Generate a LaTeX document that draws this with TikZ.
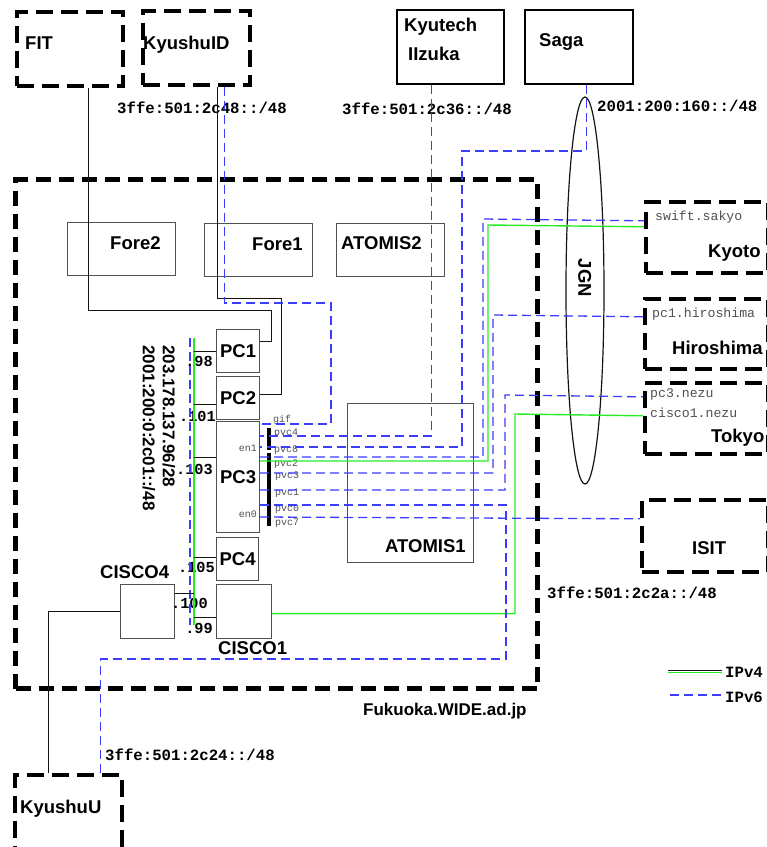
\documentclass[tikz,border=0pt]{standalone}
\usepackage{fontspec}
\setmainfont{Liberation Sans}
\newfontfamily\monof{Liberation Mono}
\usetikzlibrary{calc,positioning,shapes.geometric}
\definecolor{ink}{RGB}{20,20,20}
\definecolor{frame}{RGB}{80,80,80}
\definecolor{vsix}{RGB}{60,60,255}
\definecolor{vfour}{RGB}{40,235,40}
\definecolor{port}{RGB}{80,80,80}
\tikzset{
  site/.style={draw=black,line width=3.6pt,dash pattern=on 17pt off 8pt,inner sep=0pt,anchor=north west},
  campus/.style={draw=black,line width=2.4pt,inner sep=0pt,anchor=north west},
  noc/.style={draw=black,line width=5pt,dash pattern=on 15pt off 8pt,inner sep=0pt,anchor=north west},
  dev/.style={draw=frame,line width=1.2pt,inner sep=0pt,anchor=north west},
  lab/.style={font=\fontsize{18.5}{21}\selectfont\bfseries,text height=13.3pt,text depth=0pt},
  txt/.style={lab,inner sep=0pt,anchor=west},
  pfx/.style={inner sep=0pt,anchor=west,font=\monof\fontsize{15.7}{18}\selectfont\bfseries,
    text height=10.5pt,text depth=0pt},
  addr/.style={pfx,anchor=east,font=\monof\fontsize{15.3}{18}\selectfont\bfseries},
  host/.style={inner sep=0pt,anchor=west,text=port,font=\monof\fontsize{13.2}{15}\selectfont,
    text height=9pt,text depth=0pt},
  pvc/.style={host,font=\monof\fontsize{10}{12}\selectfont,text height=7pt},
  v4/.style={draw=ink,line width=0.9pt},
  v4g/.style={draw=vfour,line width=1.4pt},
  v6/.style={draw=vsix,line width=1.3pt,dash pattern=on 9pt off 5pt},
}

\begin{document}
\begin{tikzpicture}[x=1pt,y=-1pt]
  \useasboundingbox (0,0) rectangle (767,847);
  % outside sites
  \node[site,minimum width=106pt,minimum height=74pt] (fit) at (15,10) {};
  \node[site,minimum width=107pt,minimum height=74pt] (kyushuid) at (141,9) {};
  \node[campus,minimum width=107pt,minimum height=74pt] (kyutech) at (396,9) {};
  \node[campus,minimum width=108pt,minimum height=74pt] (saga) at (524,9) {};
  \node[site,minimum width=122pt,minimum height=71pt] (kyoto) at (644,200) {};
  \node[site,minimum width=123pt,minimum height=70pt] (hiroshima) at (643,297) {};
  \node[site,minimum width=123pt,minimum height=71pt] (tokyo) at (643,381) {};
  \node[site,minimum width=126pt,minimum height=72pt] (isit) at (640,498) {};
  \node[site,minimum width=107pt,minimum height=90pt] (kyushuu) at (13,773) {};
  \node[draw=ink,line width=1.2pt,ellipse,inner sep=0pt,minimum width=38pt,minimum height=387pt]
    (jgn) at (585,290.5) {};
  % NOC
  \node[noc,minimum width=522pt,minimum height=509pt] (fukuoka) at (13,177) {};
  \node[dev,minimum width=108pt,minimum height=53pt] (fore2) at (67,222) {};
  \node[dev,minimum width=108pt,minimum height=53pt] (fore1) at (204,223) {};
  \node[dev,minimum width=108pt,minimum height=53pt] (atomis2) at (336,223) {};
  \node[dev,minimum width=126pt,minimum height=159pt] (atomis1) at (347,403) {};
  \node[dev,lab,minimum width=43pt,minimum height=43pt] (pc1) at (216,329) {PC1};
  \node[dev,lab,minimum width=43pt,minimum height=43pt] (pc2) at (216,376) {PC2};
  \node[dev,lab,minimum width=43pt,minimum height=111pt] (pc3) at (216,421) {PC3};
  \node[dev,lab,minimum width=42pt,minimum height=43pt] (pc4) at (216,537) {PC4};
  \node[dev,minimum width=55pt,minimum height=54pt] (cisco1) at (216,584) {};
  \node[dev,minimum width=54pt,minimum height=54pt] (cisco4) at (120,584) {};
  \node[fill=black,inner sep=0pt,minimum width=4pt,minimum height=22pt,anchor=north] (en1bar) at (269,428) {};
  \node[fill=black,inner sep=0pt,minimum width=4pt,minimum height=73pt,anchor=north] (en0bar) at (269,453) {};

  % labels
  \node[txt] (fitlbl) at (25,43) {FIT};
  \node[txt] (kyushuidlbl) at (143,43) {KyushuID};
  \node[txt] (kyutechlbl) at (404,25) {Kyutech};
  \node[txt] (iizukalbl) at (408,54) {IIzuka};
  \node[txt] (sagalbl) at (539,39.5) {Saga};
  \node[txt] (fore2lbl) at (110,243) {Fore2};
  \node[txt] (fore1lbl) at (252,244) {Fore1};
  \node[txt] (atomis2lbl) at (341,243) {ATOMIS2};
  \node[txt] (atomis1lbl) at (385,546) {ATOMIS1};
  \node[txt] (cisco4lbl) at (100,572) {CISCO4};
  \node[txt] (cisco1lbl) at (218,648) {CISCO1};
  \node[txt] (kyotolbl) at (708,251) {Kyoto};
  \node[txt] (hiroshimalbl) at (672,348) {Hiroshima};
  \node[txt] (tokyolbl) at (711,436) {Tokyo};
  \node[txt] (isitlbl) at (692,548) {ISIT};
  \node[txt] (kyushuulbl) at (20,807) {KyushuU};
  \node[lab,rotate=-90] (jgnlbl) at (585,278) {JGN};
  \node[txt,font=\fontsize{17}{20}\selectfont\bfseries,text height=12.2pt] (fukuokalbl) at (363,709)
    {Fukuoka.WIDE.ad.jp};
  \node[txt,rotate=-90,font=\fontsize{17}{20}\selectfont\bfseries,text height=12.2pt] (v4net) at (169,345)
    {203.178.137.96/28};
  \node[txt,rotate=-90,font=\fontsize{17}{20}\selectfont\bfseries,text height=12.2pt] (v6net) at (149,345)
    {2001:200:0:2c01::/48};
  \node[pfx] (kyushuidpfx) at (117,108) {3ffe:501:2c48::/48};
  \node[pfx] (kyutechpfx) at (342,109.5) {3ffe:501:2c36::/48};
  \node[pfx] (sagapfx) at (597,106) {2001:200:160::/48};
  \node[pfx] (isitpfx) at (547,593) {3ffe:501:2c2a::/48};
  \node[pfx] (kyushuupfx) at (105,755) {3ffe:501:2c24::/48};
  \node[host] (sakyo) at (655,216) {swift.sakyo};
  \node[host] (hiropc) at (652,313) {pc1.hiroshima};
  \node[host] (nezupc) at (650,393) {pc3.nezu};
  \node[host] (nezucisco) at (650,413) {cisco1.nezu};
  \node[addr] (a98) at (213,361) {.98};
  \node[addr] (a101) at (216,416) {.101};
  \node[addr] (a103) at (213,469) {.103};
  \node[addr] (a105) at (215,567) {.105};
  \node[addr] (a100) at (208,603) {.100};
  \node[addr] (a99) at (213,628) {.99};
  \node[pvc] (giflbl) at (273,419) {gif};
  \node[pvc] (pvc4lbl) at (274,432) {pvc4};
  \node[pvc] (pvc8lbl) at (274,449) {pvc8};
  \node[pvc] (pvc2lbl) at (274,463) {pvc2};
  \node[pvc] (pvc3lbl) at (275,475) {pvc3};
  \node[pvc] (pvc1lbl) at (275,492) {pvc1};
  \node[pvc] (pvc0lbl) at (275,508) {pvc0};
  \node[pvc] (pvc7lbl) at (275,522) {pvc7};
  \node[pvc,anchor=east] (en1lbl) at (257,448) {en1};
  \node[pvc,anchor=east] (en0lbl) at (257,514) {en0};

  % ports on PC3
  \coordinate (gif) at ([yshift=-3pt]pc3.north east);
  \coordinate (pvc4) at ([yshift=-15pt]pc3.north east);
  \coordinate (pvc8) at ([yshift=-26pt]pc3.north east);
  \coordinate (pvc2) at ([yshift=-36pt]pc3.north east);
  \coordinate (pvc2g) at ([yshift=-40pt]pc3.north east);
  \coordinate (pvc3) at ([yshift=-52pt]pc3.north east);
  \coordinate (pvc1) at ([yshift=-69pt]pc3.north east);
  \coordinate (pvc0) at ([yshift=-84pt]pc3.north east);
  \coordinate (pvc7) at ([yshift=-96pt]pc3.north east);

  % segment
  \coordinate (bus6top) at (190,338); \coordinate (bus6bot) at (190,625);
  \coordinate (bus4top) at (194,338); \coordinate (bus4bot) at (194,625);
  \draw[v6] (bus6top) -- (bus6bot);
  \draw[v4g] (bus4top) -- (bus4bot);
  \draw[v4] (pc1.west) -- (pc1.west -| bus4top);
  \draw[v4] ([yshift=-6.5pt]pc2.west) coordinate (s2) -- (s2 -| bus4top);
  \draw[v4] ([yshift=19.5pt]pc3.west) coordinate (s3) -- (s3 -| bus4top);
  \draw[v4] ([yshift=1.5pt]pc4.west) coordinate (s4) -- (s4 -| bus4top);
  \draw[v4] ([yshift=18pt]cisco4.east) coordinate (s5) -- (s5 -| bus4top);
  \draw[v4] ([yshift=-6pt]cisco1.west) coordinate (s6) -- (s6 -| bus4top);

  % IPv4 links
  \draw[v4] ([xshift=19pt]fit.south) |- (271,310) |- ([yshift=9.5pt]pc1.east);
  \draw[v4] ([xshift=21.5pt]kyushuid.south) |- (281,298) |- ([yshift=3.5pt]pc2.east);
  \draw[v4] (cisco4.west) -| ([xshift=-19.5pt]kyushuu.north);
  \draw[v4g] (pvc2g) -| (488,225) -- ([yshift=10.5pt]kyoto.west);
  \draw[v4g] ([yshift=-2pt]cisco1.east) -| (515,414) -- ([yshift=2.5pt]tokyo.west);

  % IPv6 links
  \draw[v6] ([xshift=28.5pt]kyushuid.south) |- (331,303) |- (gif);
  \draw[v6] ([xshift=-19pt]kyutech.south) |- (pvc4);
  \draw[v6] ([xshift=7pt]saga.south) |- (462,151) |- (pvc8);
  \draw[v6] (pvc2) -| (483,219) -- ([yshift=16.5pt]kyoto.west);
  \draw[v6] (pvc3) -| (493,315) -- ([yshift=17pt]hiroshima.west);
  \draw[v6] (pvc1) -| (505,395) -- ([yshift=21.5pt]tokyo.west);
  \draw[v6] (pvc0) -| (506,659) -| ([xshift=32pt]kyushuu.north);
  \draw[v6] (pvc7) -- ([yshift=17pt]isit.west);

  % legend
  \node[pfx] (ipv4) at (725,672) {IPv4};
  \node[pfx] (ipv6) at (725,697) {IPv6};
  \draw[v4] ([xshift=-57pt,yshift=1.8pt]ipv4.west) -- ([xshift=-3pt,yshift=1.8pt]ipv4.west);
  \draw[v4g] ([xshift=-57pt,yshift=-0.6pt]ipv4.west) -- ([xshift=-3pt,yshift=-0.6pt]ipv4.west);
  \draw[v6] ([xshift=-55pt,yshift=2pt]ipv6.west) -- ([xshift=-3pt,yshift=2pt]ipv6.west);
\end{tikzpicture}
\end{document}
